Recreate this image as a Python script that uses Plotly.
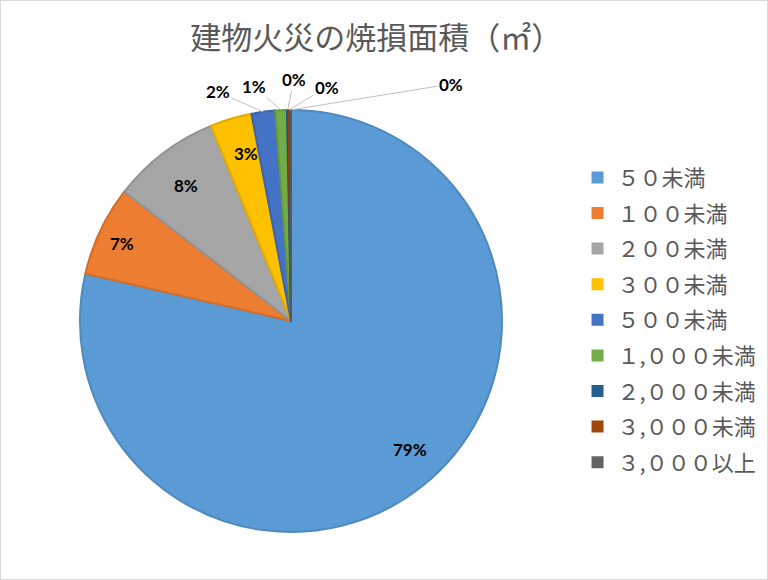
import math
import plotly.graph_objects as go

# 建物火災の焼損面積 区分
labels = ["５０未満", "１００未満", "２００未満", "３００未満", "５００未満",
          "１,０００未満", "２,０００未満", "３,０００未満", "３,０００以上"]
# 構成比(%) 図から読み取り
values = [78.6, 6.9, 8.3, 3.2, 1.8, 0.9, 0.1, 0.1, 0.1]

colors = ["#5B9BD5", "#ED7D31", "#A5A5A5", "#FFC000", "#4472C4",
          "#70AD47", "#255E91", "#9E480E", "#636363"]
edge = ["#4F89BE", "#D26D29", "#929292", "#E2AA00", "#3C64AD",
        "#62983E", "#204F7C", "#8A3F0C", "#575757"]

W, H = 768, 580
CX, CY, R = 291, 321, 211          # 円の中心と半径(px)
# ラベル位置(px)と引出線の有無
label_pos = [(410, 462), (108, 243), (172, 173), (232, 141), (218, 92),
             (254, 86), (294, 79), (327, 87), (451, 84)]
leader = [False, False, False, False, True, True, True, True, True]

fig = go.Figure()
fig.add_trace(go.Pie(
    labels=labels, values=values, sort=False,
    direction="clockwise", rotation=0,
    marker=dict(colors=colors, line=dict(color=edge, width=2)),
    textinfo="none", showlegend=False,
    hoverinfo="label+percent",
    domain=dict(x=[(CX - R) / W, (CX + R) / W], y=[1 - (CY + R) / H, 1 - (CY - R) / H]),
))

# 凡例(行間を広げるため個別のグループにする)
for i, (lab, col) in enumerate(zip(labels, colors)):
    fig.add_trace(go.Scatter(x=[None], y=[None], mode="markers", name=lab,
                             legendgroup=f"g{i}", hoverinfo="skip",
                             marker=dict(symbol="square", size=12, color=col)))

total = sum(values)
annotations = []
cum = 0
for v, (lx, ly), ld in zip(values, label_pos, leader):
    mid = (cum + v / 2) / total * 2 * math.pi
    cum += v
    txt = f"{round(v / total * 100)}%"
    font = dict(family="Lato", size=17, color="#000000", weight="bold")
    if ld:
        tx = CX + R * math.sin(mid)
        ty = CY - R * math.cos(mid)
        annotations.append(dict(x=tx / W, y=1 - ty / H, xref="paper", yref="paper",
                                ax=lx - tx, ay=ly - ty, text=txt, font=font,
                                showarrow=True, arrowhead=0, arrowwidth=1,
                                arrowcolor="#BFBFBF", standoff=0))
    else:
        annotations.append(dict(x=lx / W, y=1 - ly / H, xref="paper", yref="paper",
                                text=txt, font=font, showarrow=False))

fig.update_xaxes(visible=False)
fig.update_yaxes(visible=False)
fig.update_layout(
    width=W, height=H, autosize=False,
    margin=dict(l=0, r=0, t=0, b=0),
    paper_bgcolor="white", plot_bgcolor="white",
    title=dict(text="建物火災の焼損面積（㎡）", x=0.49, xanchor="center", y=0.934, yanchor="middle",
               font=dict(family="Noto Sans CJK JP", size=31, color="#595959")),
    legend=dict(x=0.752, y=0.73, xanchor="left", yanchor="top",
                font=dict(family="Noto Sans CJK JP", size=22, color="#595959"),
                itemwidth=30, tracegroupgap=4),
    annotations=annotations,
    shapes=[dict(type="rect", xref="paper", yref="paper", x0=0, y0=0, x1=1, y1=1,
                 line=dict(color="#D9D9D9", width=2))],
)

fig.write_html("out.html", config={"responsive": False, "displayModeBar": False},
               post_script="document.body.style.margin='0px';document.body.style.overflow='hidden';")
